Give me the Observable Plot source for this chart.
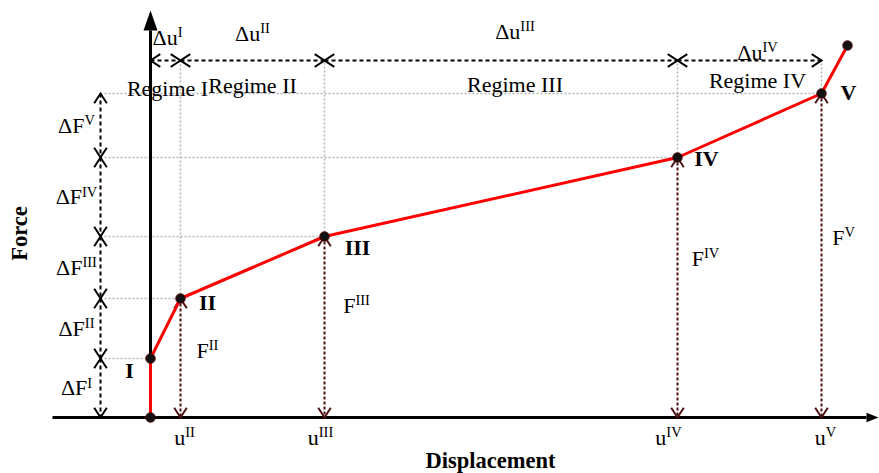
<!DOCTYPE html>
<html><head><meta charset="utf-8">
<script src="https://cdn.jsdelivr.net/npm/d3@7"></script>
<script src="https://cdn.jsdelivr.net/npm/@observablehq/plot@0.6"></script>
<style>body{margin:0;background:#fff}</style>
</head><body><div id="chart"></div>
<script>
// ---------- data ----------
const pointNames = ["O", "I", "II", "III", "IV", "V", "end"];
const displacement = [0, 0, 30, 174, 527, 671, 697];
const force = [0, 59, 119, 181, 260, 324, 372];
const regimeLabels = ["Regime I", "Regime II", "Regime III", "Regime IV"];
const deltaULabels = ["Δu^I", "Δu^II", "Δu^III", "Δu^IV"];
const deltaFLabels = ["ΔF^I", "ΔF^II", "ΔF^III", "ΔF^IV", "ΔF^V"];
const uLabels = ["u^II", "u^III", "u^IV", "u^V"];
const fLabels = ["F^II", "F^III", "F^IV", "F^V"];
const xTitle = "Displacement";
const yTitle = "Force";

// ---------- layout ----------
const W = 879, H = 473;
const FONT = "Liberation Serif, Times New Roman, serif";
const dFx = -50;          // x of the ΔF dimension arrows
const dULevel = 357;      // y of the Δu dimension arrows
const axisLeft = -98, axisRight = 716, axisTop = 387;
const pointDx = [-21, 27, 33, 29, 27], pointDy = [12, 4, 11, 1, -1];
const fDx = [27, 32, 28, 22], fY = [67, 112, 159, 180];
const uDx = [4, -4, -9, 4];
const duDx = [2, 0, 14, 8], duY = [380, 384, 386, 365];
const regY = [329, 332, 333, 337];

// ---------- derived tables ----------
const pts = displacement.map((u, i) => ({u, F: force[i], name: pointNames[i]}));
const stages = pts.slice(1, 6);            // I..V
const drops = pts.slice(2, 6);             // II..V
const uIntervals = d3.range(4).map(i => ({a: stages[i].u, b: stages[i + 1].u, du: deltaULabels[i], reg: regimeLabels[i], i}));
const fIntervals = d3.range(5).map(i => ({a: force[i], b: force[i + 1], lab: deltaFLabels[i]}));

const fHeads = fIntervals.flatMap(d => [{x: dFx, y: d.b, rot: 0}, {x: dFx, y: d.a, rot: 180}]);
const uHeads = uIntervals.flatMap(d => [{x: d.a, y: dULevel, rot: -90}, {x: d.b, y: dULevel, rot: 90}]);
const dropHeads = drops.flatMap(d => [{x: d.u, y: d.F, rot: 0}, {x: d.u, y: 0, rot: 180}]);

// filled triangle (axis ends), tip pointing up before rotation
const arrowHead = (k) => ({
  draw(ctx, size) {
    const r = Math.sqrt(size / Math.PI);
    ctx.moveTo(0, -2 * r);
    ctx.lineTo(k * r, 0);
    ctx.lineTo(-k * r, 0);
    ctx.closePath();
  }
});
// open chevron, tip at the anchor, pointing up before rotation
const chevron = {
  draw(ctx, size) {
    const r = Math.sqrt(size / Math.PI);
    ctx.moveTo(-r, 1.55 * r);
    ctx.lineTo(0, 0);
    ctx.lineTo(r, 1.55 * r);
  }
};

const txt = {fontFamily: FONT, fontSize: 22, fill: "black"};
const DROP = "#4e1212";
const head = {x: "x", y: "y", rotate: "rot", symbol: chevron, r: 6.3, fill: "none", strokeWidth: 2};

const chart = Plot.plot({
  width: W, height: H,
  margin: 0,
  x: {domain: [-150, 729], axis: null},
  y: {domain: [-56, 417], axis: null},
  marks: [
    // grey dotted guides
    Plot.link(stages, {x1: dFx, x2: "u", y1: "F", y2: "F", stroke: "#b4b4b4", strokeWidth: 1.5, strokeDasharray: "2,2"}),
    Plot.link(drops, {x1: "u", x2: "u", y1: "F", y2: dULevel, stroke: "#b4b4b4", strokeWidth: 1.5, strokeDasharray: "2,2"}),
    // axes
    Plot.link([0], {x1: axisLeft, x2: axisRight, y1: 0, y2: 0, stroke: "black", strokeWidth: 3}),
    Plot.link([0], {x1: 0, x2: 0, y1: 0, y2: axisTop, stroke: "black", strokeWidth: 3}),
    Plot.dot([0], {x: 0, y: axisTop, symbol: arrowHead(0.7), r: 10, fill: "black", stroke: "none"}),
    Plot.dot([0], {x: axisRight, y: 0, symbol: arrowHead(0.8), r: 6, rotate: 90, fill: "black", stroke: "none"}),
    // dimension arrows
    Plot.link(fIntervals, {x1: dFx, x2: dFx, y1: "b", y2: "a", stroke: "black", strokeWidth: 2, strokeDasharray: "4,3"}),
    Plot.dot(fHeads, {...head, stroke: "black"}),
    Plot.link(uIntervals, {x1: "a", x2: "b", y1: dULevel, y2: dULevel, stroke: "black", strokeWidth: 2, strokeDasharray: "4,3"}),
    Plot.dot(uHeads, {...head, stroke: "black"}),
    Plot.link(drops, {x1: "u", x2: "u", y1: "F", y2: 0, stroke: DROP, strokeWidth: 2, strokeDasharray: "3,2"}),
    Plot.dot(dropHeads, {...head, stroke: DROP}),
    // force-displacement curve
    Plot.line(pts, {x: "u", y: "F", stroke: "#ff0000", strokeWidth: 3}),
    Plot.dot(pts, {x: "u", y: "F", r: 4.8, fill: "#111", stroke: "#5a0000", strokeWidth: 0.8}),
    // texts
    Plot.text(stages, {x: (d, i) => d.u + pointDx[i], y: (d, i) => d.F - pointDy[i], text: "name", ...txt, fontWeight: "bold"}),
    Plot.text(drops, {x: (d, i) => d.u + fDx[i], y: (d, i) => fY[i], text: (d, i) => fLabels[i], ...txt}),
    Plot.text(drops, {x: (d, i) => d.u + uDx[i], y: -20, text: (d, i) => uLabels[i], ...txt}),
    Plot.text(fIntervals, {x: -74, y: d => (d.a + d.b) / 2, text: "lab", ...txt}),
    Plot.text(uIntervals, {x: d => (d.a + d.b) / 2 + duDx[d.i], y: d => duY[d.i], text: "du", ...txt}),
    Plot.text(uIntervals, {x: d => (d.a + d.b) / 2 + duDx[d.i], y: d => regY[d.i], text: "reg", ...txt}),
    Plot.text([xTitle], {x: 340, y: -43, text: d => d, ...txt, fontSize: 22.5, fontWeight: "bold"}),
    Plot.text([yTitle], {x: -131, y: 184, text: d => d, rotate: -90, ...txt, fontSize: 22.5, fontWeight: "bold"})
  ]
});

// superscripts
const NS = "http://www.w3.org/2000/svg";
chart.querySelectorAll("text").forEach(t => {
  const s = t.textContent;
  const k = s.indexOf("^");
  if (k < 0) return;
  t.textContent = "";
  const a = document.createElementNS(NS, "tspan");
  a.textContent = s.slice(0, k);
  const b = document.createElementNS(NS, "tspan");
  b.textContent = s.slice(k + 1);
  b.setAttribute("font-size", "0.66em");
  b.setAttribute("dy", "-0.5em");
  t.append(a, b);
});
document.getElementById("chart").append(chart);
</script>
</body></html>
